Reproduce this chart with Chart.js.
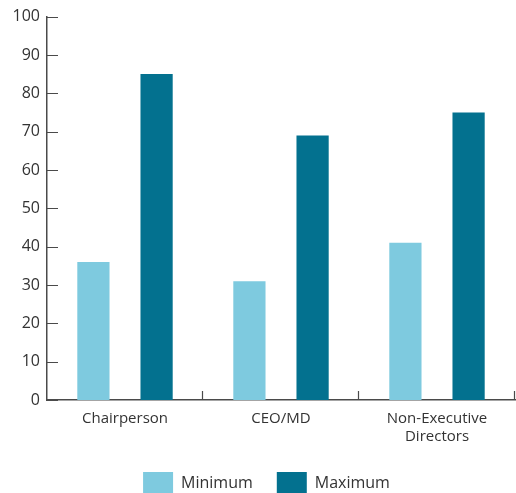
<!DOCTYPE html>
<html>
<head>
<meta charset="utf-8">
<script src="https://cdn.jsdelivr.net/npm/chart.js@4.4.1/dist/chart.umd.min.js"></script>
<style>
  html, body { margin: 0; padding: 0; background: #fff; overflow: hidden; }
  #wrap { width: 516px; height: 504px; position: relative; }
</style>
</head>
<body>
<div id="wrap"><canvas id="chart"></canvas></div>
<script>
// Board roles and the min / max values per role
const roles = ['Chairperson', 'CEO/MD', ['Non-Executive', 'Directors']];
const minimumValues = [36, 31, 41];
const maximumValues = [85, 69, 75];
const yTicks = [0, 10, 20, 30, 40, 50, 60, 70, 80, 90, 100];

const LIGHT = '#7ecadf';
const DARK = '#03718f';
const AXIS = '#4a4a4a';
const TEXT = '#333333';
const FONT = "'Open Sans', sans-serif";

// Short tick marks drawn inward from both axes
const innerTicks = {
    id: 'innerTicks',
    afterDraw(chart) {
        const { ctx, chartArea, scales: { x, y } } = chart;
        ctx.save();
        ctx.strokeStyle = AXIS;
        ctx.lineWidth = 1.2;
        ctx.beginPath();
        yTicks.forEach(v => {
            const py = Math.round(y.getPixelForValue(v)) + 0.5;
            ctx.moveTo(chartArea.left, py);
            ctx.lineTo(chartArea.left + 11, py);
        });
        for (let i = 1; i <= roles.length; i++) {
            const px = Math.round(x.getPixelForValue(i - 0.5)) - 0.5;
            ctx.moveTo(px, chartArea.bottom);
            ctx.lineTo(px, chartArea.bottom - 9);
        }
        ctx.stroke();
        ctx.restore();
    }
};

// Nudge the legend a little right of the canvas centre
const legendShift = {
    id: 'legendShift',
    afterLayout(chart) {
        if (!chart.legend) return;
        chart.legend.left += 9;
        chart.legend.right += 9;
    }
};

new Chart(document.getElementById('chart'), {
    type: 'bar',
    data: {
        labels: roles,
        datasets: [
            { label: 'Minimum', data: minimumValues, backgroundColor: LIGHT },
            { label: 'Maximum', data: maximumValues, backgroundColor: DARK }
        ]
    },
    options: {
        responsive: true,
        maintainAspectRatio: false,
        animation: false,
        datasets: { bar: { categoryPercentage: 0.81, barPercentage: 0.51 } },
        layout: { padding: { top: 8, right: 1, left: 0, bottom: 0 } },
        plugins: {
            tooltip: { enabled: false },
            legend: {
                position: 'bottom',
                labels: {
                    boxWidth: 30,
                    boxHeight: 22,
                    padding: 24,
                    color: TEXT,
                    font: { family: FONT, size: 16 }
                }
            }
        },
        scales: {
            x: {
                afterFit: (axis) => { axis.height = 48; },
                grid: { display: false, drawTicks: false },
                border: { color: AXIS, width: 1.5 },
                ticks: {
                    color: TEXT,
                    padding: 10,
                    maxRotation: 0,
                    font: { family: FONT, size: 15 }
                }
            },
            y: {
                min: 0,
                max: 100,
                afterBuildTicks: (axis) => { axis.ticks = yTicks.map(v => ({ value: v })); },
                afterFit: (axis) => { axis.width = 47; },
                grid: { display: false, drawTicks: false },
                border: { color: AXIS, width: 1.5 },
                ticks: {
                    color: TEXT,
                    padding: 7,
                    font: { family: FONT, size: 16 }
                }
            }
        }
    },
    plugins: [innerTicks, legendShift]
});
</script>
</body>
</html>
